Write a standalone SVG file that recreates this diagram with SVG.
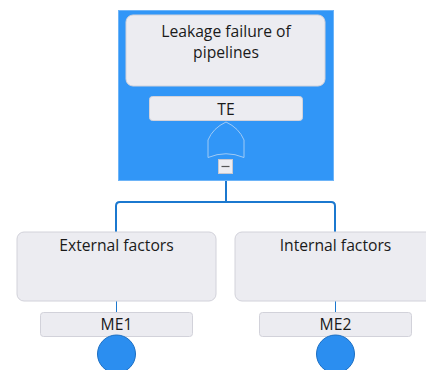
<svg xmlns="http://www.w3.org/2000/svg" width="426" height="370" viewBox="0 0 426 370">
<style>
.box{fill:#ececf1;stroke:#d2d2da;stroke-width:1}
.lbl{font-family:"Open Sans","Noto Sans",sans-serif;font-size:15.7px;fill:#1a1a1a;text-anchor:middle}
.conn{fill:none;stroke:#1b78cf;stroke-width:2}
.thin{fill:none;stroke:#1b78cf;stroke-width:1}
.evt{fill:#2b8ef0;stroke:#1d6fc2;stroke-width:1}
</style>
<rect x="0" y="0" width="426" height="370" fill="#ffffff"/>
<g id="connectors">
<path class="thin" d="M226 86V96"/>
<path class="conn" d="M226 174V202M120 202H331Q335 202 335 206V232M120 202Q116 202 116 206V232"/>
<path class="thin" d="M116.5 301V312M335.5 301V312"/>
</g>
<g id="TE">
<rect x="118.5" y="10.5" width="215" height="170" fill="#3196f7" stroke="#6db4f8" stroke-width="1"/>
<rect class="box" x="126" y="15" width="199" height="71" rx="7"/>
<text class="lbl" x="226" y="36.5">Leakage failure of</text>
<text class="lbl" x="226" y="57.5">pipelines</text>
<rect class="box" x="149.5" y="96.5" width="153" height="24" rx="3"/>
<text class="lbl" x="226" y="114.5">TE</text>
<path d="M226 122Q239 128 244 140V157.5Q226 150 208 157.5V140Q213 128 226 122Z" fill="none" stroke="#9fcaf5" stroke-width="1"/>
<rect x="218.5" y="159.5" width="14" height="14" fill="#ececf1" stroke="#c8c8d0"/>
<path d="M221.5 166.5H229.5" stroke="#555" stroke-width="1.2"/>
</g>
<g id="ME1">
<rect class="box" x="17" y="232" width="199" height="69" rx="7"/>
<text class="lbl" x="116.5" y="250.5">External factors</text>
<rect class="box" x="40.5" y="312.5" width="152" height="24" rx="3"/>
<text class="lbl" x="116.5" y="330">ME1</text>
<circle class="evt" cx="116.5" cy="354" r="19"/>
</g>
<g id="ME2">
<rect class="box" x="235" y="232" width="200" height="69" rx="7"/>
<text class="lbl" x="335.5" y="250.5">Internal factors</text>
<rect class="box" x="259.5" y="312.5" width="152" height="24" rx="3"/>
<text class="lbl" x="335.5" y="330">ME2</text>
<circle class="evt" cx="335.5" cy="354" r="19"/>
</g>
</svg>
